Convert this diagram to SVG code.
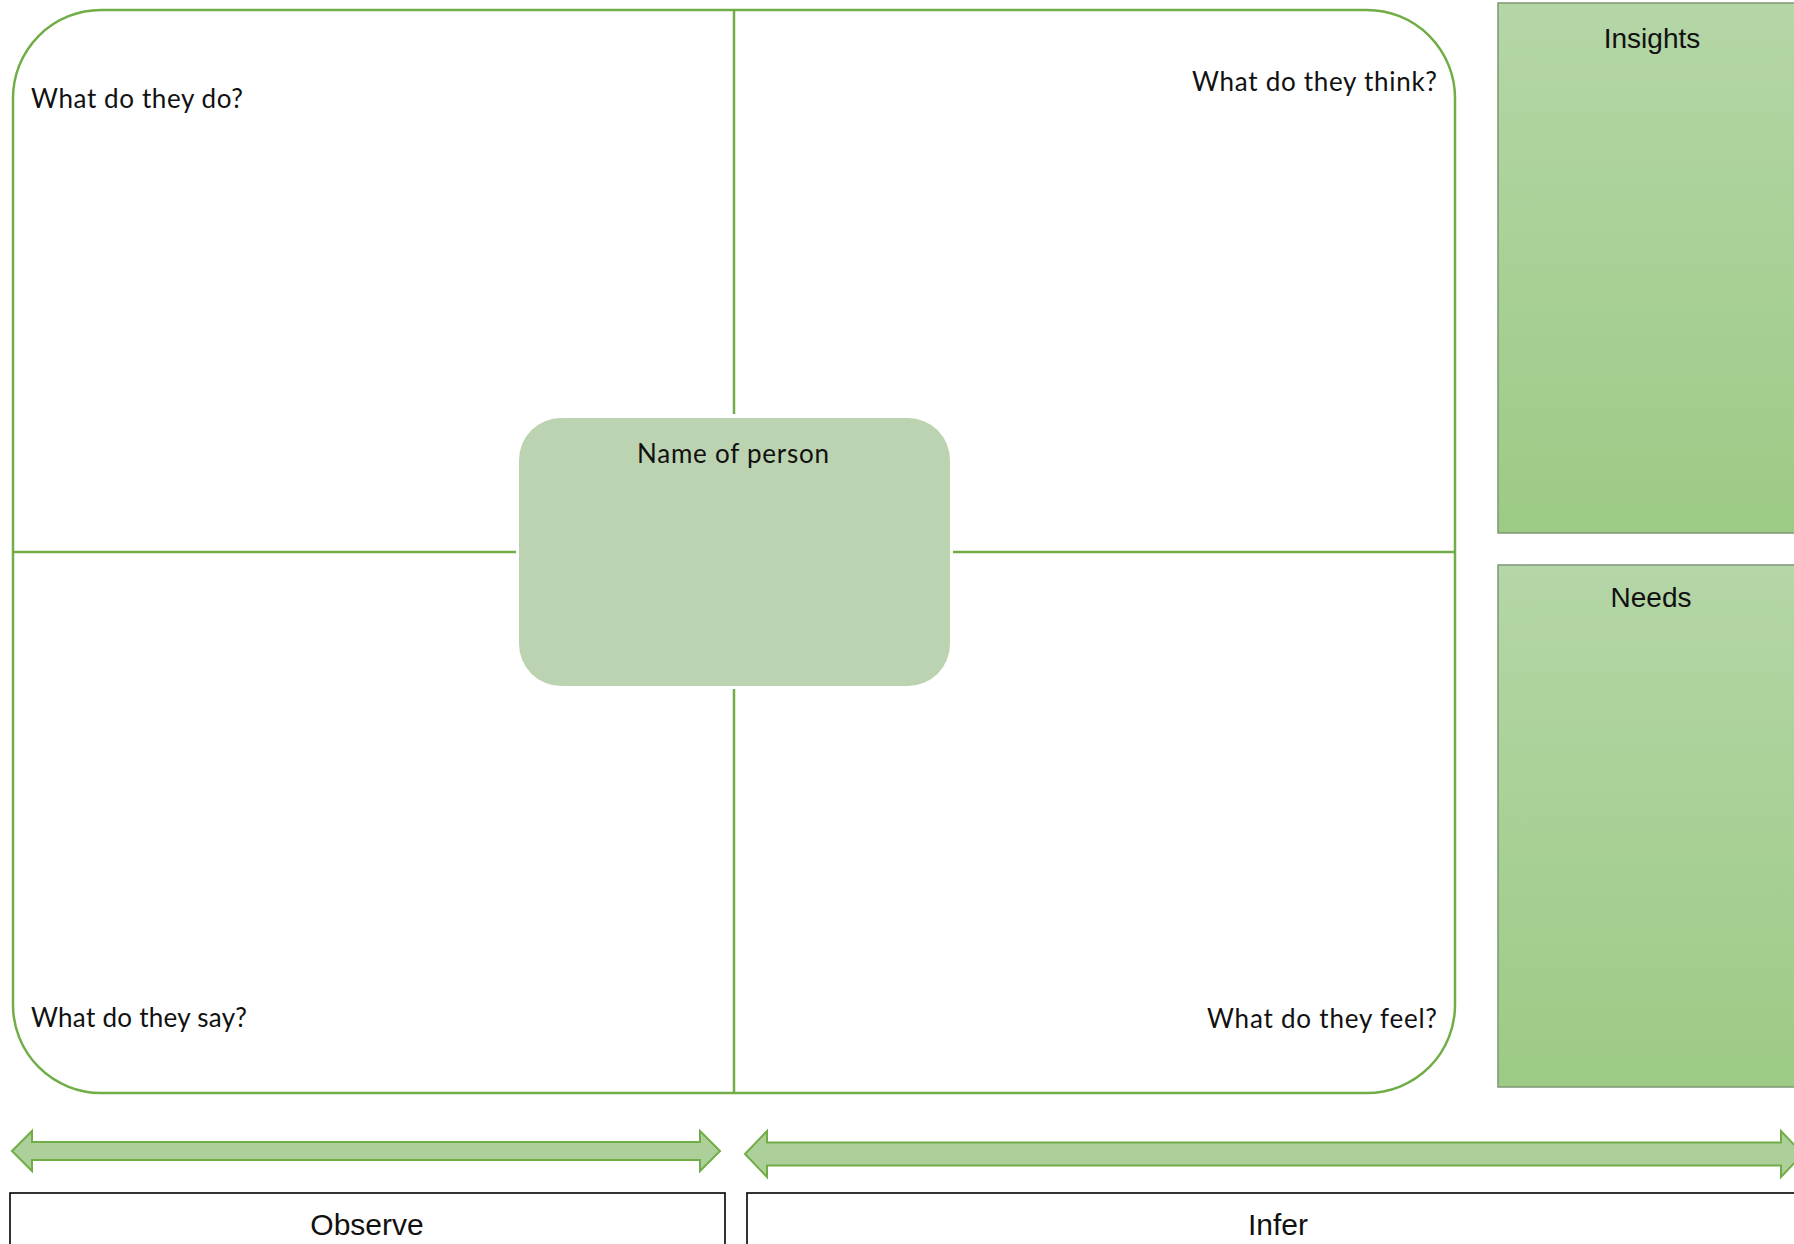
<svg xmlns="http://www.w3.org/2000/svg" width="1794" height="1244" viewBox="0 0 1794 1244">
  <style>
    .q { font-family: Lato, "Open Sans", sans-serif; font-size: 26px; fill: #111; }
    .lbl { font-family: "Liberation Sans", Arial, sans-serif; fill: #111; text-anchor: middle; }
    .div { stroke: #70AD47; stroke-width: 2.5; fill: none; }
    .side { fill: url(#sideGrad); stroke: #7E9774; stroke-width: 1.5; }
    .arrow { fill: #ADD09B; stroke: #70AD47; stroke-width: 2; stroke-linejoin: miter; }
    .frame { fill: #fff; stroke: #000; stroke-width: 1.6; }
  </style>
  <defs>
    <linearGradient id="sideGrad" x1="0" y1="0" x2="0" y2="1">
      <stop offset="0" stop-color="#B5D6A7"/>
      <stop offset="1" stop-color="#9CCB85"/>
    </linearGradient>
  </defs>
  <rect width="1794" height="1244" fill="#fff"/>

  <g id="map">
    <rect x="13" y="10" width="1442" height="1083" rx="88" ry="88" class="div"/>
  </g>

  <g id="connectors">
    <line x1="734" y1="10" x2="734" y2="414" class="div"/>
    <line x1="734" y1="689" x2="734" y2="1093" class="div"/>
    <line x1="13" y1="552" x2="516" y2="552" class="div"/>
    <line x1="953" y1="552" x2="1455" y2="552" class="div"/>
  </g>

  <g id="q-do">
    <text class="q" x="31" y="108" textLength="212">What do they do?</text>
  </g>
  <g id="q-think">
    <text class="q" x="1192" y="91" textLength="245">What do they think?</text>
  </g>
  <g id="q-say">
    <text class="q" x="31" y="1027" textLength="216">What do they say?</text>
  </g>
  <g id="q-feel">
    <text class="q" x="1207" y="1028" textLength="230">What do they feel?</text>
  </g>

  <g id="person">
    <rect x="519" y="418" width="431" height="268" rx="42" ry="42" fill="#BBD3B0"/>
    <text class="q" x="637" y="463" textLength="192">Name of person</text>
  </g>

  <g id="insights">
    <rect x="1498" y="3" width="320" height="530" class="side"/>
    <text class="lbl" x="1652" y="48" font-size="28">Insights</text>
  </g>
  <g id="needs">
    <rect x="1498" y="565" width="320" height="522" class="side"/>
    <text class="lbl" x="1651" y="607" font-size="28">Needs</text>
  </g>

  <g id="arrow-observe">
    <polygon class="arrow" points="12,1151 32,1131 32,1142 700,1142 700,1131 720,1151 700,1171 700,1160 32,1160 32,1171"/>
  </g>
  <g id="arrow-infer">
    <polygon class="arrow" points="745,1154 767,1131 767,1142.5 1781,1142.5 1781,1131 1803,1154 1781,1177 1781,1165.5 767,1165.5 767,1177"/>
  </g>

  <g id="observe">
    <rect x="10" y="1193" width="715" height="100" class="frame"/>
    <text class="lbl" x="367" y="1235" font-size="30">Observe</text>
  </g>
  <g id="infer">
    <rect x="747" y="1193" width="1100" height="100" class="frame"/>
    <text class="lbl" x="1278" y="1235" font-size="30">Infer</text>
  </g>
</svg>
